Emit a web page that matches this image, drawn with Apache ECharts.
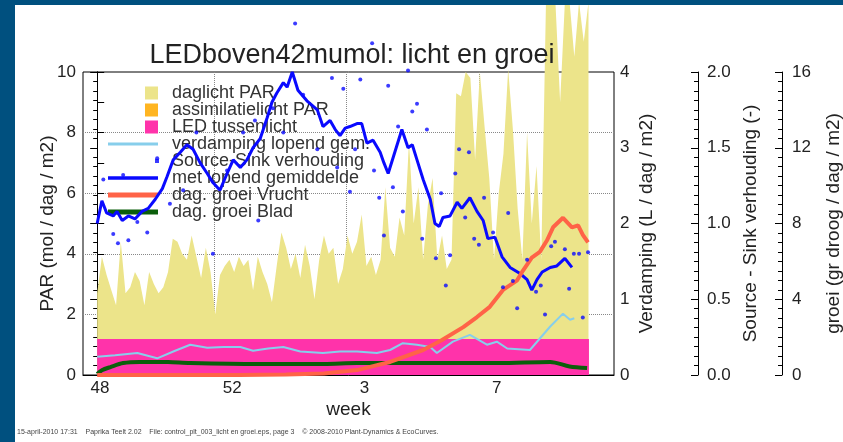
<!DOCTYPE html>
<html>
<head>
<meta charset="utf-8">
<title>LEDboven42mumol: licht en groei</title>
<script src="https://cdn.jsdelivr.net/npm/echarts@6/dist/echarts.min.js"></script>
<style>
  html, body { margin: 0; padding: 0; background: #fff; }
  #main { width: 843px; height: 442px; }
</style>
</head>
<body>
<div id="main"></div>
<script>
// x = dagen vanaf begin week 48
var weekLabels = ['48', '52', '3', '7'];
var weekLabelDays = [0.6, 28.6, 56.6, 84.6];
var weekTickDays = [3.8, 10.8, 17.8, 24.8, 31.8, 38.8, 45.8, 52.8, 59.8, 66.8, 73.8, 80.8, 87.8, 94.8, 101.8];
var weekMajorDays = [24.8, 52.8, 80.8];

// daglicht PAR (mol/dag/m2), een waarde per dag
var daglichtPAR = [
  2.7, 3.9, 3.3, 2.8, 2.3, 4.4, 2.7, 2.9, 3.4, 3.1,
  2.3, 3.4, 3.0, 2.7, 2.9, 3.4, 4.5, 4.4, 4.0, 3.8,
  4.6, 3.9, 3.2, 4.2, 3.4, 2.0, 3.3, 3.6, 3.8, 3.4,
  3.9, 3.6, 3.8, 2.8, 3.9, 3.4, 3.0, 2.4, 3.6, 4.7,
  4.2, 3.5, 4.0, 3.2, 4.3, 3.6, 2.5, 3.8, 4.6, 4.0,
  4.2, 3.0, 3.5, 4.6, 4.0, 4.4, 5.3, 3.6, 3.9, 3.3,
  3.8, 6.2, 4.2, 3.9, 5.2, 4.6, 7.7, 5.0, 6.2, 3.8,
  5.6, 6.5, 3.8, 4.6, 3.5, 3.8, 9.3, 9.2, 10.0, 9.8,
  7.1, 10.0, 8.2, 6.5, 3.8, 6.0, 7.3, 10.1, 8.1, 5.5,
  3.8, 8.0, 5.0, 6.9, 3.8, 12.3, 12.3, 12.3, 9.0, 12.3,
  12.3, 10.5, 12.3, 11.0, 12.3
];
var ledDays = [0, 104.1];
var ledPAR = [1.19, 1.19];

// verdamping lopend gemiddelde (L/dag/m2)
var verdampDays = [0, 3.8, 8.5, 12.7, 16.5, 19.7, 23.3, 26.7, 30.3, 33, 36.2, 39.4, 43, 47.8, 51.4, 55, 59.2, 62, 64.7, 67.7, 70.5, 71.9, 75.3, 78.9, 82.5, 84.6, 86.8, 91.6, 95.9, 98.6, 100.1, 101];
var verdampVals = [0.24, 0.26, 0.29, 0.22, 0.32, 0.40, 0.36, 0.37, 0.37, 0.32, 0.35, 0.37, 0.31, 0.29, 0.31, 0.31, 0.29, 0.33, 0.42, 0.40, 0.37, 0.29, 0.44, 0.53, 0.40, 0.44, 0.35, 0.33, 0.64, 0.81, 0.73, 0.75];

// Source-Sink verhouding (-), losse dagwaarden
var ssDotDays = [1.3, 3.4, 4.4, 5.5, 6.6, 8.5, 10.6, 12.7, 15.4, 18.2, 21.0, 24.5, 27.5, 30.9, 33.4, 34.1, 37.2, 39.4, 41.9, 43.6, 46.6, 49.7, 50.8, 52.1, 53.5, 54.6, 55.7, 58.2, 58.6, 59.7, 60.7, 61.6, 62.6, 63.7, 64.7, 65.8, 66.7, 67.7, 68.8, 69.8, 71.7, 72.8, 73.8, 74.7, 75.8, 76.6, 77.9, 78.7, 79.8, 80.8, 81.9, 83.8, 85.9, 87.0, 88.0, 88.9, 91.0, 92.9, 93.9, 94.8, 96.1, 96.9, 99.0, 99.9, 100.9, 102.0, 102.8, 103.9];
var ssDotVals = [1.29, 0.93, 0.87, 1.32, 0.89, 1.01, 0.94, 1.43, 1.13, 1.22, 1.60, 0.80, 1.35, 1.60, 1.68, 1.02, 1.76, 1.60, 2.32, 1.85, 1.49, 1.96, 1.37, 1.89, 1.21, 1.49, 1.95, 2.19, 1.35, 1.17, 0.92, 1.91, 1.24, 1.64, 1.08, 2.01, 1.74, 1.79, 0.90, 1.62, 0.77, 1.20, 0.59, 0.79, 1.33, 1.49, 1.04, 1.47, 0.90, 0.86, 1.17, 0.94, 0.58, 1.07, 0.62, 0.44, 0.76, 0.55, 0.59, 0.40, 0.85, 0.88, 0.83, 0.57, 0.80, 0.80, 0.38, 0.81];

// Source-Sink met lopend gemiddelde
var ssMeanDays = [0, 1, 2, 3.4, 4.2, 5.3, 6.6, 8, 9.5, 10.8, 12.3, 13.8, 14.8, 16.1, 17.6, 19, 20.3, 21.8, 23.3, 24.5, 26, 27.5, 28.8, 30.3, 31.7, 33, 34.5, 36, 37, 38, 39.4, 40.2, 41.3, 42.5, 44.4, 45.5, 46.6, 47.8, 49.3, 50.4, 51.4, 52.5, 53.5, 55, 56, 57.1, 58.4, 59.9, 60.7, 61.6, 63, 64.5, 65.8, 66.7, 67.7, 69, 70.5, 71.5, 72.4, 73.2, 74.7, 76.2, 77.2, 78.9, 80.4, 81.7, 82.7, 84.2, 85.7, 87.4, 89.5, 91, 92, 93.1, 94.2, 95.9, 97.3, 99, 100.5];
var ssMeanVals = [1.00, 1.15, 1.07, 1.05, 1.08, 1.02, 1.05, 1.03, 1.08, 1.10, 1.16, 1.23, 1.31, 1.42, 1.47, 1.52, 1.49, 1.40, 1.33, 1.27, 1.22, 1.33, 1.42, 1.37, 1.42, 1.50, 1.56, 1.70, 1.80, 1.86, 1.93, 1.90, 2.00, 1.88, 1.81, 1.78, 1.75, 1.64, 1.68, 1.62, 1.58, 1.63, 1.64, 1.66, 1.66, 1.53, 1.55, 1.47, 1.40, 1.33, 1.47, 1.62, 1.50, 1.52, 1.42, 1.29, 1.16, 1.00, 0.98, 1.04, 1.05, 1.14, 1.10, 1.17, 1.08, 1.02, 0.90, 0.91, 0.78, 0.71, 0.67, 0.63, 0.56, 0.63, 0.68, 0.71, 0.72, 0.77, 0.71];

// dagelijkse groei (gr droog/dag/m2)
var vruchtDays = [0, 30, 40, 48, 55, 62, 69, 73, 77.5, 80.4, 83.1, 85.9, 88.9, 90.1, 92, 93.7, 95.2, 96.5, 98.6, 100.5, 101.8, 102.8, 103.9];
var vruchtVals = [0.0, 0.0, 0.02, 0.08, 0.26, 0.69, 1.32, 1.85, 2.53, 3.06, 3.6, 4.49, 5.0, 5.5, 6.2, 6.5, 7.1, 7.8, 8.3, 7.8, 7.9, 7.4, 7.0];
var bladDays = [0, 1, 2.8, 5.5, 9, 15, 19.7, 34, 48, 55, 70, 85, 95.9, 100, 103.7];
var bladVals = [0.05, 0.25, 0.42, 0.63, 0.69, 0.68, 0.63, 0.58, 0.58, 0.63, 0.63, 0.63, 0.69, 0.45, 0.37];

function pairs(xs, ys) {
  return xs.map(function (x, i) { return [x, ys[i]]; });
}

var font = 'Liberation Sans, Arial, Helvetica, sans-serif';
var txt = '#222';

function squareIcon() {
  return 'path://M0,0 L0.01,0 M59,13 L58.99,13 M37,0 L50,0 L50,13 L37,13 Z';
}
function lineIcon(th) {
  var a = 6.5 - th / 2, b = 6.5 + th / 2;
  return 'path://M0,0 L0.01,0 M59,13 L58.99,13 M0,' + a + ' L50,' + a + ' L50,' + b + ' L0,' + b + ' Z';
}
function dotIcon() {
  return 'path://M0,0 L0.01,0 M59,13 L58.99,13 M47,4.5 L51,4.5 L51,8.5 L47,8.5 Z';
}

function yAxisBase(o) {
  var base = {
    type: 'value',
    nameLocation: 'middle',
    nameRotate: 90,
    nameMoveOverlap: false,
    nameTextStyle: { color: txt, fontSize: 19, fontFamily: font },
    axisLine: { show: true, lineStyle: { color: '#000', width: 1 } },
    axisTick: { show: true, inside: true, length: 7, lineStyle: { color: '#000' } },
    minorTick: { show: true, length: 4, lineStyle: { color: '#000' } },
    axisLabel: { color: txt, fontSize: 17, fontFamily: font },
    splitLine: { show: false }
  };
  for (var k in o) {
    if (typeof o[k] === 'object' && base[k] && !Array.isArray(o[k])) {
      base[k] = Object.assign({}, base[k], o[k]);
    } else {
      base[k] = o[k];
    }
  }
  return base;
}

var myChart = echarts.init(document.getElementById('main'), null, { renderer: 'canvas' });

var option = {
  animation: false,
  backgroundColor: '#fff',
  title: {
    text: 'LEDboven42mumol: licht en groei',
    left: 347,
    textAlign: 'center',
    top: 37,
    textStyle: { color: txt, fontSize: 27, fontWeight: 'normal', fontFamily: font }
  },
  legend: {
    orient: 'vertical',
    left: 108,
    top: 84,
    itemWidth: 59,
    itemHeight: 13,
    itemGap: -1,
    padding: 0,
    selectedMode: false,
    itemStyle: { borderWidth: 0 },
    textStyle: { color: '#333', fontSize: 18, fontFamily: font },
    data: [
      { name: 'daglicht PAR', icon: squareIcon() },
      { name: 'assimilatielicht PAR', icon: squareIcon() },
      { name: 'LED tussenlicht', icon: squareIcon() },
      { name: 'verdamping lopend gem.', icon: lineIcon(3) },
      { name: 'Source-Sink verhouding', icon: dotIcon() },
      { name: 'met lopend gemiddelde', icon: lineIcon(3.5) },
      { name: 'dag. groei Vrucht', icon: lineIcon(5) },
      { name: 'dag. groei Blad', icon: lineIcon(5) }
    ]
  },
  grid: {
    left: 83, right: 229, top: 72, bottom: 67,
    show: true, borderColor: '#000', borderWidth: 1, backgroundColor: 'transparent',
    containLabel: false, outerBoundsMode: 'none'
  },
  xAxis: [
    {
      type: 'value', min: -3, max: 109.4, position: 'bottom',
      name: 'week', nameLocation: 'middle', nameGap: 25, nameMoveOverlap: false,
      nameTextStyle: { color: txt, fontSize: 19, fontFamily: font },
      axisLine: { show: true, lineStyle: { color: '#000', width: 1 } },
      axisTick: { show: true, inside: true, length: 3, customValues: weekTickDays, lineStyle: { color: '#000' } },
      axisLabel: {
        customValues: weekLabelDays, margin: 5, color: txt, fontSize: 17, fontFamily: font,
        formatter: function (v) {
          var i = weekLabelDays.indexOf(v);
          return i >= 0 ? weekLabels[i] : '';
        }
      },
      splitLine: { show: false }
    },
    {
      type: 'value', min: -3, max: 109.4, position: 'bottom',
      axisLine: { show: false },
      axisLabel: { show: false },
      axisTick: { show: true, inside: true, length: 7, customValues: weekMajorDays, lineStyle: { color: '#000' } },
      splitLine: { show: true, lineStyle: { color: '#888', type: 'dotted', width: 1 } }
    }
  ],
  yAxis: [
    yAxisBase({
      position: 'left', min: 0, max: 10, interval: 2,
      name: 'PAR (mol / dag / m2)', nameGap: 26,
      minorTick: { splitNumber: 2, length: 7 },
      axisLabel: { margin: 7 },
      splitLine: { show: true, showMinLine: false, showMaxLine: false, lineStyle: { color: '#888', type: 'dotted', width: 1 } }
    }),
    yAxisBase({
      position: 'right', offset: 0, min: 0, max: 4, interval: 1,
      name: 'Verdamping (L / dag / m2)', nameGap: 23,
      minorTick: { splitNumber: 8 },
      axisLabel: { margin: 6 }
    }),
    yAxisBase({
      position: 'right', offset: 84, min: 0, max: 2, interval: 0.5,
      name: 'Source - Sink verhouding (-)', nameGap: 43,
      minorTick: { splitNumber: 8 },
      axisLabel: { margin: 9, formatter: function (v) { return v.toFixed(1); } }
    }),
    yAxisBase({
      position: 'right', offset: 168, min: 0, max: 16, interval: 4,
      name: 'groei (gr droog / dag / m2)', nameGap: 42,
      minorTick: { splitNumber: 8 },
      axisLabel: { margin: 10 }
    })
  ],
  series: [
    {
      name: 'daglicht PAR', type: 'line', xAxisIndex: 0, yAxisIndex: 0, z: 2,
      clip: false, showSymbol: false, symbol: 'none',
      data: daglichtPAR.map(function (v, i) { return [i, v]; }),
      color: '#ece48a',
      lineStyle: { width: 0 },
      areaStyle: { color: '#ece48a', opacity: 1 }
    },
    {
      name: 'assimilatielicht PAR', type: 'line', xAxisIndex: 0, yAxisIndex: 0, z: 2,
      data: [], color: '#ffb521', lineStyle: { width: 0 }, areaStyle: { color: '#ffb521', opacity: 1 }
    },
    {
      name: 'LED tussenlicht', type: 'line', xAxisIndex: 0, yAxisIndex: 0, z: 3,
      showSymbol: false, symbol: 'none',
      data: pairs(ledDays, ledPAR),
      color: '#ff33aa',
      lineStyle: { width: 0 },
      areaStyle: { color: '#ff33aa', opacity: 1 }
    },
    {
      name: 'verdamping lopend gem.', type: 'line', xAxisIndex: 0, yAxisIndex: 1, z: 4,
      showSymbol: false, symbol: 'none',
      data: pairs(verdampDays, verdampVals),
      color: '#87ceeb',
      lineStyle: { width: 2, color: '#87ceeb' }
    },
    {
      name: 'dag. groei Blad', type: 'line', xAxisIndex: 0, yAxisIndex: 3, z: 5,
      showSymbol: false, symbol: 'none', smooth: 0.3,
      data: pairs(bladDays, bladVals),
      color: '#0b5e0b',
      lineStyle: { width: 4, color: '#0b5e0b' }
    },
    {
      name: 'met lopend gemiddelde', type: 'line', xAxisIndex: 0, yAxisIndex: 2, z: 6,
      showSymbol: false, symbol: 'none',
      data: pairs(ssMeanDays, ssMeanVals),
      color: '#0a0aff',
      lineStyle: { width: 3, color: '#0a0aff' }
    },
    {
      name: 'dag. groei Vrucht', type: 'line', xAxisIndex: 0, yAxisIndex: 3, z: 7,
      showSymbol: false, symbol: 'none',
      data: pairs(vruchtDays, vruchtVals),
      color: '#ff6347',
      lineStyle: { width: 4, color: '#ff6347' }
    },
    {
      name: 'Source-Sink verhouding', type: 'scatter', xAxisIndex: 0, yAxisIndex: 2, z: 8,
      clip: false, symbol: 'circle', symbolSize: 4,
      data: pairs(ssDotDays, ssDotVals),
      color: '#0a0aff',
      itemStyle: { color: '#0a0aff' }
    }
  ],
  graphic: [
    { type: 'rect', left: 0, top: 0, z: 100, shape: { width: 15, height: 442 }, style: { fill: '#00507f' } },
    { type: 'rect', left: 0, top: 0, z: 100, shape: { width: 843, height: 5 }, style: { fill: '#00507f' } },
    {
      type: 'text', left: 17, top: 429, z: 100,
      style: {
        text: '15-april-2010 17:31    Paprika Teelt 2.02    File: control_plt_003_licht en groei.eps, page 3    \u00a9 2008-2010 Plant-Dynamics & EcoCurves.',
        fill: '#444', fontSize: 7, fontFamily: font
      }
    }
  ]
};

myChart.setOption(option);
</script>
</body>
</html>
